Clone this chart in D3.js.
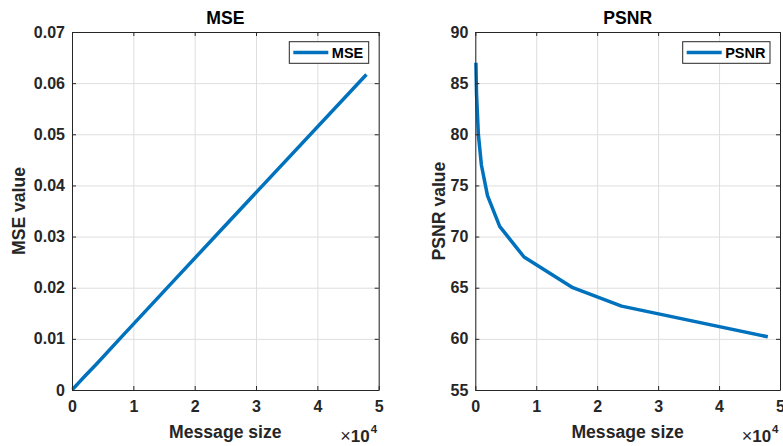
<!DOCTYPE html>
<html>
<head>
<meta charset="utf-8">
<script src="https://cdn.jsdelivr.net/npm/d3@7"></script>
<style>
    body { margin: 0; background: #fff; }
    svg { display: block; }
</style>
</head>
<body>
<script>
    // values
    var msgSize = [100, 200, 500, 1000, 2000, 4000, 8000, 16000, 24000, 48000];
    var mseValues = [0.00013, 0.00026, 0.00064, 0.0013, 0.0026, 0.0051, 0.0103, 0.0206, 0.0309, 0.0617];
    var psnrValues = [87.0, 84.0, 80.0, 77.0, 74.0, 71.0, 68.0, 65.0, 63.2, 60.2];

    var xTicks = [0, 10000, 20000, 30000, 40000, 50000];
    var mseTicks = [0, 0.01, 0.02, 0.03, 0.04, 0.05, 0.06, 0.07];
    var psnrTicks = [55, 60, 65, 70, 75, 80, 85, 90];

    var FONT = "'Liberation Sans', Arial, Helvetica, sans-serif";
    var AXIS_COLOR = '#262626';
    var LINE_COLOR = '#0072BD';

    var svg = d3.select("body").append("svg")
        .attr("width", 783)
        .attr("height", 446);

    drawPanel({
        left: 72, right: 378.7, top: 32, bottom: 390,
        title: 'MSE', yLabel: 'MSE value', yLabelX: 25,
        yDomain: [0, 0.07], yTicks: mseTicks,
        yFormat: function (d) { return d === 0 ? '0' : d3.format('.2f')(d); },
        values: mseValues,
        legend: { x0: 289.3, x1: 368.7 }
    });

    drawPanel({
        left: 475.3, right: 780, top: 32, bottom: 390,
        title: 'PSNR', yLabel: 'PSNR value', yLabelX: 444.5,
        yDomain: [55, 90], yTicks: psnrTicks,
        yFormat: d3.format('d'),
        values: psnrValues,
        legend: { x0: 682.7, x1: 770 }
    });

    function drawPanel(p) {
        var width = p.right - p.left,
            height = p.bottom - p.top;

        var g = svg.append("g")
            .attr("transform", "translate(" + p.left + "," + p.top + ")");

        var x = d3.scaleLinear().domain([0, 50000]).range([0, width]);
        var y = d3.scaleLinear().domain(p.yDomain).range([height, 0]);

        // grid
        g.append("g")
            .attr("transform", "translate(0," + height + ")")
            .call(d3.axisBottom(x).tickValues(xTicks).tickSize(-height).tickFormat(""))
            .call(function (s) { s.select(".domain").remove(); })
            .selectAll("line").attr("stroke", "#dedede");

        g.append("g")
            .call(d3.axisLeft(y).tickValues(p.yTicks).tickSize(-width).tickFormat(""))
            .call(function (s) { s.select(".domain").remove(); })
            .selectAll("line").attr("stroke", "#dedede");

        // data line
        var line = d3.line()
            .x(function (d, i) { return x(msgSize[i]); })
            .y(function (d) { return y(d); });

        g.append("path")
            .datum(p.values)
            .attr("fill", "none")
            .attr("stroke", LINE_COLOR)
            .attr("stroke-width", 3.5)
            .attr("stroke-linejoin", "round")
            .attr("d", line);

        // axes, ticks pointing inward on all four sides
        var xAxis = g.append("g")
            .attr("transform", "translate(0," + height + ")")
            .call(d3.axisBottom(x).tickValues(xTicks).tickSizeInner(-4).tickSizeOuter(0)
                .tickPadding(11).tickFormat(function (d) { return d / 10000; }));

        var yAxis = g.append("g")
            .call(d3.axisLeft(y).tickValues(p.yTicks).tickSizeInner(-4).tickSizeOuter(0)
                .tickPadding(7).tickFormat(p.yFormat));

        var topAxis = g.append("g")
            .call(d3.axisTop(x).tickValues(xTicks).tickSizeInner(-4).tickSizeOuter(0).tickFormat(""));

        var rightAxis = g.append("g")
            .attr("transform", "translate(" + width + ",0)")
            .call(d3.axisRight(y).tickValues(p.yTicks).tickSizeInner(-4).tickSizeOuter(0).tickFormat(""));

        [xAxis, yAxis, topAxis, rightAxis].forEach(function (a) {
            a.selectAll("path, line").attr("stroke", AXIS_COLOR);
            a.selectAll("text")
                .attr("fill", AXIS_COLOR)
                .style("font-family", FONT)
                .style("font-weight", "bold")
                .style("font-size", "16px");
        });

        // title
        svg.append("text")
            .attr("x", p.left + width / 2)
            .attr("y", 24)
            .attr("text-anchor", "middle")
            .style("font-family", FONT)
            .style("font-weight", "bold")
            .style("font-size", "17.6px")
            .attr("fill", "#000")
            .text(p.title);

        // x label
        svg.append("text")
            .attr("x", p.left + width / 2)
            .attr("y", 438.3)
            .attr("text-anchor", "middle")
            .style("font-family", FONT)
            .style("font-weight", "bold")
            .style("font-size", "17.6px")
            .attr("fill", AXIS_COLOR)
            .text("Message size");

        // y label
        svg.append("text")
            .attr("transform", "translate(" + p.yLabelX + "," + (p.top + height / 2) + ")rotate(-90)")
            .attr("text-anchor", "middle")
            .style("font-family", FONT)
            .style("font-weight", "bold")
            .style("font-size", "17.6px")
            .attr("fill", AXIS_COLOR)
            .text(p.yLabel);

        // exponent x10^4
        var expo = svg.append("text")
            .attr("x", p.right - 1.5)
            .attr("y", 441.7)
            .attr("text-anchor", "end")
            .style("font-family", FONT)
            .style("font-weight", "bold")
            .attr("fill", AXIS_COLOR);
        expo.append("tspan").style("font-size", "18px").style("font-weight", "normal").text("\u00d7");
        expo.append("tspan").style("font-size", "17px").text("10");
        expo.append("tspan").style("font-size", "11.5px").attr("dx", 1).attr("dy", -8.5).text("4");

        // legend
        var lg = p.legend;
        svg.append("rect")
            .attr("x", lg.x0)
            .attr("y", 41.7)
            .attr("width", lg.x1 - lg.x0)
            .attr("height", 21.6)
            .attr("fill", "#fff")
            .attr("stroke", AXIS_COLOR)
            .attr("stroke-width", 1);

        svg.append("line")
            .attr("x1", lg.x0 + 4)
            .attr("x2", lg.x0 + 39)
            .attr("y1", 52.5)
            .attr("y2", 52.5)
            .attr("stroke", LINE_COLOR)
            .attr("stroke-width", 3.5);

        svg.append("text")
            .attr("x", lg.x0 + 42.5)
            .attr("y", 57.7)
            .style("font-family", FONT)
            .style("font-weight", "bold")
            .style("font-size", "14.5px")
            .attr("fill", "#000")
            .text(p.title);
    }
</script>
</body>
</html>
